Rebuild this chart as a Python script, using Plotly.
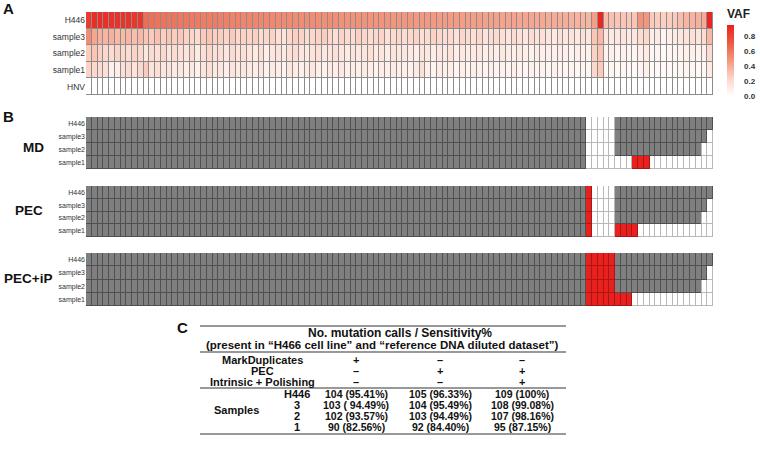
import plotly.graph_objects as go

W, H = 760, 464
FONT = "Liberation Sans, Arial, Helvetica, sans-serif"

# ---- panel A : VAF heatmap (109 mutation sites) ----
ROWS_A = ["H446", "sample3", "sample2", "sample1", "HNV"]
VAF_H446 = [
    0.84, 0.90, 0.90, 0.89, 0.88, 0.88, 0.87, 0.87, 0.86, 0.86,
    0.64, 0.63, 0.62, 0.62, 0.61, 0.61, 0.60, 0.60, 0.59, 0.59, 0.58, 0.58, 0.58, 0.57, 0.57, 0.56, 0.56, 0.55,
    0.55, 0.55, 0.54, 0.54, 0.54, 0.53, 0.53, 0.53, 0.52, 0.52, 0.52, 0.52, 0.51, 0.51, 0.51, 0.51, 0.50, 0.50,
    0.50, 0.50, 0.50, 0.49, 0.49, 0.49, 0.49, 0.48, 0.48,
    0.48, 0.48, 0.47, 0.47, 0.47, 0.47, 0.46, 0.46, 0.46, 0.46, 0.45, 0.45, 0.45, 0.45, 0.44, 0.44, 0.44, 0.43,
    0.43, 0.43, 0.42, 0.42, 0.42, 0.41, 0.41, 0.40, 0.40, 0.39, 0.39, 0.38, 0.37, 0.36,
    0.36, 0.45, 0.92, 0.33, 0.32, 0.30, 0.30, 0.29, 0.30, 0.50, 0.48, 0.28, 0.27, 0.26, 0.27, 0.28, 0.33, 0.36,
    0.37, 0.38, 0.40, 0.93,
]
VAF_SAMPLE3 = [
    0.52, 0.42, 0.38, 0.36, 0.38, 0.35, 0.34, 0.36, 0.33, 0.35,
    0.30, 0.28, 0.32, 0.26, 0.30, 0.27, 0.29, 0.25, 0.22, 0.20, 0.28, 0.30, 0.26, 0.27, 0.24, 0.28, 0.22, 0.25,
    0.24, 0.26, 0.20, 0.22, 0.25, 0.18, 0.16, 0.23, 0.26, 0.24, 0.20, 0.22, 0.25, 0.27, 0.22, 0.18, 0.24, 0.21,
    0.19, 0.26, 0.23, 0.20, 0.22, 0.24, 0.18, 0.21, 0.23,
    0.20, 0.22, 0.24, 0.18, 0.20, 0.25, 0.22, 0.19, 0.21, 0.17, 0.23, 0.20, 0.18, 0.22, 0.16, 0.19, 0.21, 0.18,
    0.15, 0.20, 0.17, 0.14, 0.19, 0.16, 0.18, 0.15, 0.12, 0.17, 0.14, 0.16, 0.13, 0.18,
    0.15, 0.30, 0.35, 0.14, 0.12, 0.13, 0.15, 0.12, 0.14, 0.20, 0.22, 0.10, 0.12, 0.06, 0.10, 0.12, 0.14, 0.16,
    0.18, 0.15, 0.20, 0.35,
]
VAF_SAMPLE2 = [
    0.28, 0.30, 0.26, 0.22, 0.20, 0.24, 0.22, 0.20, 0.24, 0.22,
    0.14, 0.20, 0.18, 0.22, 0.16, 0.20, 0.18, 0.15, 0.20, 0.12, 0.18, 0.22, 0.17, 0.19, 0.14, 0.20, 0.16, 0.18,
    0.15, 0.12, 0.18, 0.10, 0.14, 0.16, 0.12, 0.17, 0.19, 0.14, 0.12, 0.16, 0.18, 0.13, 0.15, 0.17, 0.14, 0.12,
    0.16, 0.13, 0.15, 0.18, 0.12, 0.14, 0.11, 0.15, 0.13,
    0.14, 0.12, 0.10, 0.15, 0.13, 0.11, 0.14, 0.12, 0.16, 0.10, 0.13, 0.11, 0.12, 0.14, 0.09, 0.12, 0.10, 0.13,
    0.11, 0.09, 0.12, 0.10, 0.08, 0.11, 0.09, 0.10, 0.08, 0.11, 0.09, 0.07, 0.10, 0.08,
    0.08, 0.25, 0.30, 0.07, 0.08, 0.06, 0.08, 0.07, 0.06, 0.10, 0.12, 0.05, 0.06, 0.04, 0.05, 0.06, 0.07, 0.08,
    0.09, 0.07, 0.08, 0.20,
]
VAF_SAMPLE1 = [
    0.25, 0.22, 0.20, 0.18, 0.08, 0.10, 0.18, 0.20, 0.16, 0.22,
    0.28, 0.16, 0.18, 0.14, 0.16, 0.12, 0.14, 0.10, 0.13, 0.08, 0.15, 0.18, 0.12, 0.14, 0.10, 0.16, 0.12, 0.14,
    0.12, 0.10, 0.14, 0.08, 0.12, 0.10, 0.07, 0.13, 0.11, 0.09, 0.12, 0.14, 0.10, 0.08, 0.12, 0.10, 0.13, 0.09,
    0.11, 0.08, 0.12, 0.10, 0.07, 0.11, 0.09, 0.12, 0.10,
    0.10, 0.08, 0.12, 0.18, 0.09, 0.07, 0.11, 0.08, 0.10, 0.06, 0.09, 0.07, 0.10, 0.08, 0.06, 0.09, 0.07, 0.08,
    0.06, 0.09, 0.07, 0.05, 0.08, 0.06, 0.07, 0.05, 0.08, 0.06, 0.05, 0.07, 0.05, 0.06,
    0.05, 0.22, 0.28, 0.04, 0.05, 0.04, 0.05, 0.04, 0.03, 0.06, 0.08, 0.03, 0.04, 0.02, 0.03, 0.04, 0.05, 0.06,
    0.05, 0.04, 0.05, 0.12,
]
VAF_HNV = [
    0, 0, 0, 0, 0, 0, 0, 0, 0, 0, 0, 0, 0, 0, 0, 0, 0, 0, 0, 0, 0, 0, 0, 0, 0, 0, 0, 0,
    0, 0, 0, 0, 0, 0, 0, 0, 0, 0, 0, 0, 0, 0, 0, 0, 0, 0, 0, 0, 0, 0, 0, 0, 0, 0, 0,
    0, 0, 0, 0, 0, 0, 0, 0, 0, 0, 0, 0, 0, 0, 0, 0, 0, 0, 0, 0, 0, 0, 0, 0, 0, 0, 0,
    0, 0, 0, 0, 0, 0, 0, 0, 0, 0, 0, 0, 0, 0, 0, 0, 0, 0, 0, 0, 0, 0, 0, 0, 0, 0, 0,
]
VAF_TICKS = [0.0, 0.2, 0.4, 0.6, 0.8]

# ---- panel B : calls per site, run lengths (state, count)
# 0 = not called, 1 = called (grey), 2 = called (red)
ROWS_B = ["H446", "sample3", "sample2", "sample1"]
METHODS = ["MD", "PEC", "PEC+iP"]
CALLS = {
    "MD": {
        "H446": [(1, 87), (0, 5), (1, 17)],
        "sample3": [(1, 87), (0, 5), (1, 16), (0, 1)],
        "sample2": [(1, 87), (0, 5), (1, 15), (0, 2)],
        "sample1": [(1, 87), (0, 8), (2, 3), (0, 11)],
    },
    "PEC": {
        "H446": [(1, 87), (2, 1), (0, 4), (1, 17)],
        "sample3": [(1, 87), (2, 1), (0, 4), (1, 16), (0, 1)],
        "sample2": [(1, 87), (2, 1), (0, 4), (1, 15), (0, 2)],
        "sample1": [(1, 87), (2, 1), (0, 4), (2, 4), (0, 13)],
    },
    "PEC+iP": {
        "H446": [(1, 87), (2, 5), (1, 17)],
        "sample3": [(1, 87), (2, 5), (1, 16), (0, 1)],
        "sample2": [(1, 87), (2, 5), (1, 15), (0, 2)],
        "sample1": [(1, 87), (2, 8), (0, 14)],
    },
}

# ---- panel C : summary table ----
TABLE_HEADER = ["No. mutation calls / Sensitivity%",
                "(present in \u201cH466 cell line\u201d and \u201creference DNA diluted dataset\u201d)"]
TABLE_STEPS = ["MarkDuplicates", "PEC", "Intrinsic + Polishing"]
TABLE_SIGNS = [["+", "\u2013", "\u2013"],
               ["\u2013", "+", "+"],
               ["\u2013", "\u2013", "+"]]
TABLE_GROUP = "Samples"
TABLE_SAMPLES = ["H446", "3", "2", "1"]
TABLE_VALUES = [["104 (95.41%)", "105 (96.33%)", "109 (100%)"],
                ["103 ( 94.49%)", "104 (95.49%)", "108 (99.08%)"],
                ["102 (93.57%)", "103 (94.49%)", "107 (98.16%)"],
                ["90 (82.56%)", "92 (84.40%)", "95 (87.15%)"]]

GREY = "#7f7f7f"
RED = "#e8211f"


def px(x):
    return x / W


def py(y):
    return 1 - y / H


def expand(runs):
    out = []
    for state, n in runs:
        out += [state] * n
    return out


def step_scale(c0, c1, c2):
    return [[0, c0], [0.25, c0], [0.25, c1], [0.75, c1], [0.75, c2], [1, c2]]


sites = list(range(len(VAF_H446)))
fig = go.Figure()

# panel A
fig.add_trace(go.Heatmap(
    z=[VAF_H446, VAF_SAMPLE3, VAF_SAMPLE2, VAF_SAMPLE1, VAF_HNV],
    x=sites, y=ROWS_A, xaxis="x", yaxis="y",
    zmin=0, zmax=0.95, xgap=1, ygap=1,
    colorscale=[[0, "#ffffff"], [0.25, "#fcd5c8"], [0.5, "#f4977f"], [0.75, "#ec5a43"], [1, RED]],
    colorbar=dict(
        x=px(727), xanchor="left", y=py(6), yanchor="top",
        lenmode="pixels", len=90, ypad=0, xpad=0, thickness=7, outlinewidth=0,
        tickvals=VAF_TICKS, ticktext=[f"{v:.1f}" for v in VAF_TICKS],
        ticks="outside", ticklen=9, tickcolor="rgba(0,0,0,0)",
        tickfont=dict(size=8, color="#333", weight="bold", family=FONT),
        title=dict(text="VAF", side="top",
                   font=dict(size=12, color="#222", weight="bold", family=FONT)),
    ),
))

# panel B: bottom layer gives the cell border colour, top layer the fill
b_tops = [117, 186, 253]
b_bots = [169, 237, 306]
for i, m in enumerate(METHODS):
    z = [expand(CALLS[m][r]) for r in ROWS_B]
    ax = str(i + 2)
    fig.add_trace(go.Heatmap(
        z=z, x=sites, y=ROWS_B, xaxis="x" + ax, yaxis="y" + ax,
        zmin=0, zmax=2, showscale=False, hoverinfo="skip",
        colorscale=step_scale("#b8b8b8", "#505050", "#a81616"),
    ))
    fig.add_trace(go.Heatmap(
        z=z, x=sites, y=ROWS_B, xaxis="x" + ax, yaxis="y" + ax,
        zmin=0, zmax=2, showscale=False, xgap=1, ygap=1,
        colorscale=step_scale("#ffffff", GREY, RED),
    ))

xdom = [px(86), px(713)]
layout = dict(
    width=W, height=H, margin=dict(l=0, r=0, t=0, b=0, autoexpand=False),
    paper_bgcolor="white", plot_bgcolor="#8c8c8c",
    font=dict(family=FONT, color="#222"), showlegend=False,
    xaxis=dict(domain=xdom, range=[-0.5, 108.5], visible=False),
    yaxis=dict(domain=[py(95), py(12)], autorange="reversed", showgrid=False,
               zeroline=False, ticks="", tickfont=dict(size=8.5, color="#333")),
)
for i in range(3):
    ax = str(i + 2)
    layout["xaxis" + ax] = dict(domain=xdom, range=[-0.5, 108.5], visible=False, anchor="y" + ax)
    layout["yaxis" + ax] = dict(domain=[py(b_bots[i]), py(b_tops[i])], autorange="reversed",
                                showgrid=False, zeroline=False, ticks="", anchor="x" + ax,
                                tickfont=dict(size=7, color="#333"))
fig.update_layout(**layout)

ann = []


def text(x, y, s, size=11, xa="center"):
    ann.append(dict(x=px(x), y=py(y), xref="paper", yref="paper", text=s, showarrow=False,
                    xanchor=xa, yanchor="middle",
                    font=dict(size=size, color="#111", weight="bold", family=FONT)))


# panel letters and method labels
text(8, 8, "A", 15)
text(8, 116, "B", 15)
text(182, 327, "C", 15)
for m, (x, y) in zip(METHODS, [(33, 147), (28.5, 211), (28, 278)]):
    text(x, y, m, 13.5)

# table
text(400, 333, TABLE_HEADER[0], 12)
text(382, 344.5, TABLE_HEADER[1], 11.5)
col_x = [356, 440, 522]
for r, (step, signs) in enumerate(zip(TABLE_STEPS, TABLE_SIGNS)):
    yy = 359.5 + r * 11
    text(262, yy, step)
    for cx, s in zip(col_x, signs):
        text(cx, yy, s)
text(236, 410, TABLE_GROUP)
for r, (smp, vals) in enumerate(zip(TABLE_SAMPLES, TABLE_VALUES)):
    yy = 393.5 + r * 11.2
    text(297, yy, smp)
    for cx, v in zip(col_x, vals):
        text(cx, yy, v, 10.5)
fig.update_layout(annotations=ann)

for yl in [326, 352, 388, 434]:
    fig.add_shape(type="line", xref="paper", yref="paper", x0=px(200), x1=px(566),
                  y0=py(yl), y1=py(yl), line=dict(color="#333", width=1))

fig.write_html("out.html", config={"displayModeBar": False},
               post_script="document.body.style.margin='0';")
